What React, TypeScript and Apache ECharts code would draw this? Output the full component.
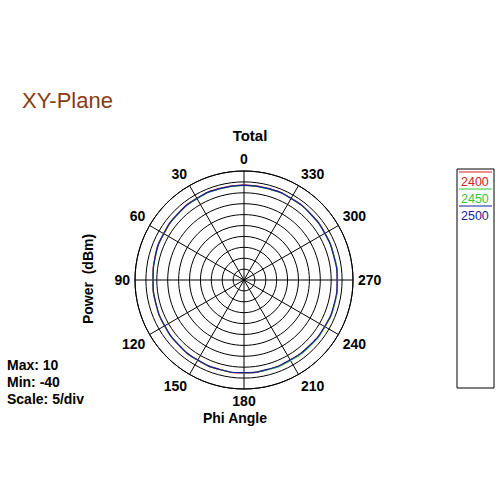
import React, { useEffect, useRef } from 'react';
import * as echarts from 'echarts';

// angles (deg) at which the traces are sampled
const angles = [0, 15, 30, 45, 60, 75, 90, 105, 120, 135, 150, 165, 180, 195, 210, 225, 240, 255, 270, 285, 300, 315, 330, 345, 360];
// power (dBm) per frequency
const p2400 = [3.6, 3.5, 3.3, 3.0, 2.6, 2.2, 1.8, 1.9, 2.1, 2.3, 2.5, 2.6, 2.6, 2.5, 2.4, 2.6, 2.8, 2.9, 2.8, 2.7, 2.9, 3.1, 3.3, 3.5, 3.6];
const p2450 = [3.4, 3.3, 3.1, 2.8, 2.4, 2.0, 1.7, 1.8, 2.0, 2.2, 2.4, 2.5, 2.5, 2.6, 2.6, 2.8, 2.9, 3.0, 2.9, 2.8, 2.8, 3.0, 3.2, 3.3, 3.4];
const p2500 = [3.5, 3.4, 3.2, 2.9, 2.5, 2.1, 1.7, 1.8, 2.0, 2.2, 2.4, 2.5, 2.5, 2.4, 2.3, 2.5, 2.7, 2.8, 2.7, 2.6, 2.8, 3.0, 3.2, 3.4, 3.5];

const seriesNames = ['2400', '2450', '2500'];
const seriesColors = ['#d42020', '#33c433', '#1c1c9c'];
const seriesValues = [p2400, p2450, p2500];

const statLines = ['Max: 10', 'Min: -40', 'Scale: 5/div'];

const FONT = '"Liberation Sans", Arial, sans-serif';

export default function App() {
  const ref = useRef<HTMLDivElement | null>(null);

  useEffect(() => {
    if (!ref.current) return;
    const chart = echarts.init(ref.current, null, { renderer: 'svg' });

    const legendGraphics: any[] = [
      { type: 'rect', shape: { x: 457, y: 169, width: 37, height: 219 }, style: { fill: '#fff', stroke: '#000', lineWidth: 1 } },
    ];
    seriesNames.forEach((n, i) => {
      const y = 172 + i * 17;
      legendGraphics.push({ type: 'line', shape: { x1: 459, y1: y, x2: 492, y2: y }, style: { stroke: seriesColors[i], lineWidth: 1 } });
      legendGraphics.push({
        type: 'text', x: 461, y: y + 10,
        style: { text: n, fill: seriesColors[i], font: `12.5px ${FONT}`, textVerticalAlign: 'middle' },
      });
    });

    chart.setOption({
      animation: false,
      backgroundColor: '#fff',
      polar: { center: [244, 280], radius: 109 },
      angleAxis: {
        type: 'value', min: 0, max: 360, interval: 30, startAngle: 90, clockwise: false,
        axisLine: { lineStyle: { color: '#000', width: 1 } },
        axisTick: { show: false },
        axisLabel: {
          margin: 5, color: '#000', fontWeight: 'bold', fontSize: 14, fontFamily: FONT,
          formatter: (v: number) => (v === 360 ? '' : String(v)),
        },
        splitLine: { show: true, lineStyle: { color: '#000', width: 1 } },
      },
      radiusAxis: {
        type: 'value', min: -40, max: 10, interval: 5,
        axisLine: { show: false }, axisTick: { show: false }, axisLabel: { show: false },
        splitLine: { show: true, lineStyle: { color: '#000', width: 1 } },
      },
      series: seriesNames.map((n, i) => ({
        name: n, type: 'line', coordinateSystem: 'polar', smooth: true, symbol: 'none',
        lineStyle: { color: seriesColors[i], width: 1.2 },
        data: seriesValues[i].map((v, k) => [v, angles[k]]),
      })),
      graphic: [
        { type: 'text', x: 22, y: 100, style: { text: 'XY-Plane', fill: '#8a3a12', font: `22px ${FONT}`, textVerticalAlign: 'middle' } },
        { type: 'text', x: 250, y: 135, style: { text: 'Total', fill: '#000', font: `bold 15px ${FONT}`, textAlign: 'center', textVerticalAlign: 'middle' } },
        { type: 'text', x: 88, y: 279, rotation: Math.PI / 2, style: { text: 'Power  (dBm)', fill: '#000', font: `bold 14px ${FONT}`, textAlign: 'center', textVerticalAlign: 'middle' } },
        { type: 'text', x: 235, y: 418, style: { text: 'Phi Angle', fill: '#000', font: `bold 14px ${FONT}`, textAlign: 'center', textVerticalAlign: 'middle' } },
        ...statLines.map((t, i) => ({
          type: 'text', x: 7, y: 365 + i * 17,
          style: { text: t, fill: '#000', font: `bold 14px ${FONT}`, textVerticalAlign: 'middle' },
        })),
        ...legendGraphics,
      ],
    });

    return () => chart.dispose();
  }, []);

  return <div ref={ref} style={{ position: 'absolute', left: 0, top: 0, width: 500, height: 500 }} />;
}
